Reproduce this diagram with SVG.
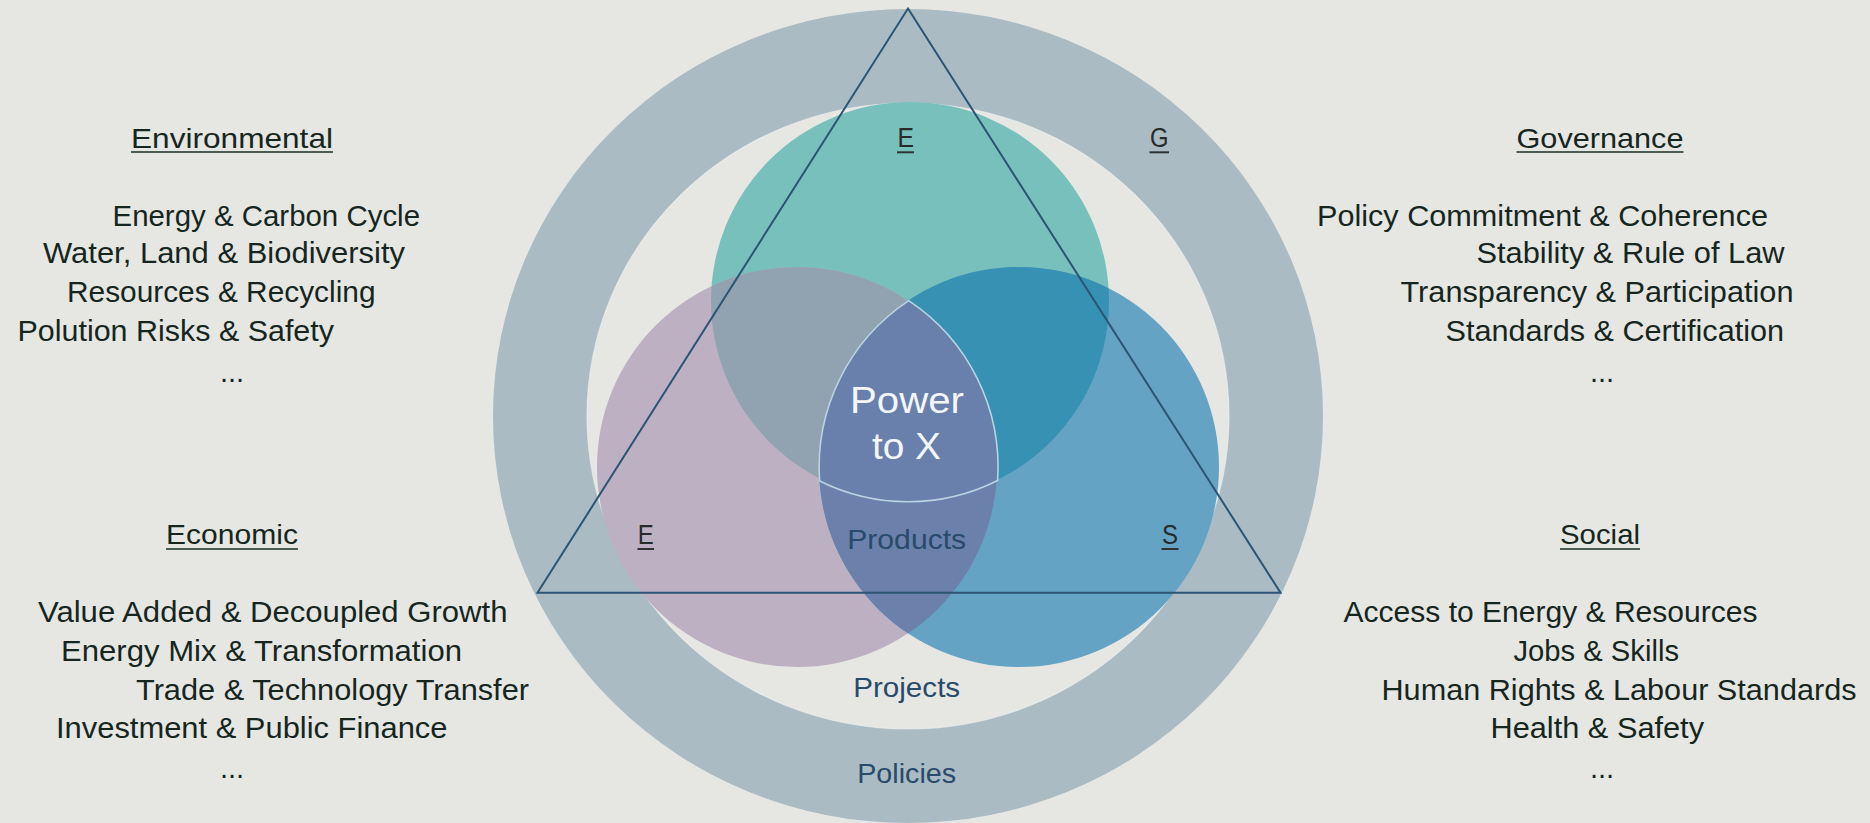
<svg xmlns="http://www.w3.org/2000/svg" width="1870" height="823" viewBox="0 0 1870 823">
  <style>
    .bg { fill: #e6e7e3; }
    .item { font-family: "Liberation Sans", Arial, sans-serif; font-size: 29px; fill: #16261f; }
    .head { font-family: "Liberation Sans", Arial, sans-serif; font-size: 28px; fill: #16261f; }
    .rule { stroke: #4b5c53; stroke-width: 2; }
    .letter { font-family: "Liberation Sans", Arial, sans-serif; font-size: 27px; fill: #262b2b; }
    .lrule { stroke: #2e3434; stroke-width: 2; }
    .level { font-family: "Liberation Sans", Arial, sans-serif; font-size: 28px; fill: #284a6b; text-anchor: middle; }
    .core { font-family: "Liberation Sans", Arial, sans-serif; font-size: 37px; fill: #f3f6fa; text-anchor: middle; }
  </style>
  <defs>
    <clipPath id="clip-env"><circle cx="910" cy="301" r="199"/></clipPath>
    <clipPath id="clip-eco"><circle cx="797" cy="467" r="200"/></clipPath>
    <clipPath id="clip-eco-env" clip-path="url(#clip-env)"><circle cx="797" cy="467" r="200"/></clipPath>
  </defs>

  <rect class="bg" x="0" y="0" width="1870" height="823"/>

  <!-- Policies ring -->
  <g id="policies-ring">
    <path fill="#aabbc4" fill-rule="evenodd" d="M493 416a415 407 0 1 0 830 0a415 407 0 1 0 -830 0Z M587 416a321 313 0 1 0 642 0a321 313 0 1 0 -642 0Z"/>
    <ellipse cx="908" cy="416" rx="321" ry="313" fill="none" stroke="#f2f4f4" stroke-opacity="0.6" stroke-width="1.2"/>
  </g>

  <!-- Three pillars -->
  <g id="circle-environmental">
    <circle cx="910" cy="301" r="199" fill="#78c0bc"/>
  </g>
  <g id="circle-economic">
    <circle cx="797" cy="467" r="200" fill="#bcb0c2"/>
  </g>
  <g id="circle-social">
    <circle cx="1019" cy="467" r="200" fill="#65a3c5"/>
  </g>

  <!-- Overlaps -->
  <g id="overlaps">
    <circle cx="797" cy="467" r="200" fill="#91a2b0" clip-path="url(#clip-env)"/>
    <circle cx="1019" cy="467" r="200" fill="#3691b3" clip-path="url(#clip-env)"/>
    <circle cx="1019" cy="467" r="200" fill="#6b81ab" clip-path="url(#clip-eco)"/>
  </g>

  <!-- Power to X core -->
  <g id="power-to-x">
    <circle cx="1019" cy="467" r="200" fill="#6880ab" clip-path="url(#clip-eco-env)"/>
    <path d="M908.7 300.6 A200 200 0 0 0 819.6 481 A199 199 0 0 0 997.6 480.5 A200 200 0 0 0 908.7 300.6 Z" fill="none" stroke="#b9d3e2" stroke-width="1.6"/>
    <text class="core" x="907" y="412.6" textLength="114" lengthAdjust="spacingAndGlyphs">Power</text>
    <text class="core" x="906.5" y="459" textLength="69" lengthAdjust="spacingAndGlyphs">to X</text>
  </g>

  <!-- ESG triangle -->
  <g id="esg-triangle">
    <polygon points="908,8.5 1280.5,592.7 537.5,592.7" fill="none" stroke="#2b5573" stroke-width="2" stroke-linejoin="miter"/>
  </g>

  <!-- Level labels -->
  <g id="levels">
    <text class="level" x="906.7" y="548.9" textLength="119" lengthAdjust="spacingAndGlyphs">Products</text>
    <text class="level" x="906.7" y="697" textLength="107" lengthAdjust="spacingAndGlyphs">Projects</text>
    <text class="level" x="906.7" y="782.7" textLength="99" lengthAdjust="spacingAndGlyphs">Policies</text>
  </g>

  <!-- Pillar letters -->
  <g id="letters">
    <text class="letter" x="897.5" y="146.7" textLength="16.5" lengthAdjust="spacingAndGlyphs">E</text>
    <line class="lrule" x1="897" y1="152.3" x2="914" y2="152.3"/>
    <text class="letter" x="1150" y="146.7" textLength="18.5" lengthAdjust="spacingAndGlyphs">G</text>
    <line class="lrule" x1="1149.5" y1="152.3" x2="1169" y2="152.3"/>
    <text class="letter" x="637.8" y="544" textLength="16" lengthAdjust="spacingAndGlyphs">E</text>
    <line class="lrule" x1="637.5" y1="549" x2="654" y2="549"/>
    <text class="letter" x="1162" y="544" textLength="16" lengthAdjust="spacingAndGlyphs">S</text>
    <line class="lrule" x1="1161.5" y1="549" x2="1178.5" y2="549"/>
  </g>

  <!-- Environmental -->
  <g id="list-environmental">
    <text class="head" x="131" y="147.7" textLength="202" lengthAdjust="spacingAndGlyphs">Environmental</text>
    <line class="rule" x1="131" y1="152" x2="333" y2="152"/>
    <text class="item" x="112.5" y="225.7" textLength="307.5" lengthAdjust="spacingAndGlyphs">Energy &amp; Carbon Cycle</text>
    <text class="item" x="43" y="263.3" textLength="362" lengthAdjust="spacingAndGlyphs">Water, Land &amp; Biodiversity</text>
    <text class="item" x="67" y="302.3" textLength="308.5" lengthAdjust="spacingAndGlyphs">Resources &amp; Recycling</text>
    <text class="item" x="17.5" y="340.7" textLength="316.5" lengthAdjust="spacingAndGlyphs">Polution Risks &amp; Safety</text>
    <text class="item" x="220" y="381.7">...</text>
  </g>

  <!-- Economic -->
  <g id="list-economic">
    <text class="head" x="166" y="544.3" textLength="132" lengthAdjust="spacingAndGlyphs">Economic</text>
    <line class="rule" x1="166" y1="549" x2="298" y2="549"/>
    <text class="item" x="38" y="622.3" textLength="469.5" lengthAdjust="spacingAndGlyphs">Value Added &amp; Decoupled Growth</text>
    <text class="item" x="61" y="660.7" textLength="401" lengthAdjust="spacingAndGlyphs">Energy Mix &amp; Transformation</text>
    <text class="item" x="136" y="700" textLength="393" lengthAdjust="spacingAndGlyphs">Trade &amp; Technology Transfer</text>
    <text class="item" x="56" y="738.3" textLength="391.5" lengthAdjust="spacingAndGlyphs">Investment &amp; Public Finance</text>
    <text class="item" x="220" y="778.3">...</text>
  </g>

  <!-- Governance -->
  <g id="list-governance">
    <text class="head" x="1516.5" y="147.7" textLength="167" lengthAdjust="spacingAndGlyphs">Governance</text>
    <line class="rule" x1="1516.5" y1="152" x2="1683.5" y2="152"/>
    <text class="item" x="1317" y="225.7" textLength="451" lengthAdjust="spacingAndGlyphs">Policy Commitment &amp; Coherence</text>
    <text class="item" x="1476.5" y="263.3" textLength="308" lengthAdjust="spacingAndGlyphs">Stability &amp; Rule of Law</text>
    <text class="item" x="1400.5" y="302.3" textLength="393" lengthAdjust="spacingAndGlyphs">Transparency &amp; Participation</text>
    <text class="item" x="1445.5" y="340.7" textLength="338.5" lengthAdjust="spacingAndGlyphs">Standards &amp; Certification</text>
    <text class="item" x="1590" y="381.7">...</text>
  </g>

  <!-- Social -->
  <g id="list-social">
    <text class="head" x="1560" y="544.3" textLength="80" lengthAdjust="spacingAndGlyphs">Social</text>
    <line class="rule" x1="1560" y1="549" x2="1640" y2="549"/>
    <text class="item" x="1343.5" y="622.3" textLength="414" lengthAdjust="spacingAndGlyphs">Access to Energy &amp; Resources</text>
    <text class="item" x="1513.5" y="660.7" textLength="165.5" lengthAdjust="spacingAndGlyphs">Jobs &amp; Skills</text>
    <text class="item" x="1381.5" y="700" textLength="475" lengthAdjust="spacingAndGlyphs">Human Rights &amp; Labour Standards</text>
    <text class="item" x="1490.5" y="738.3" textLength="213.5" lengthAdjust="spacingAndGlyphs">Health &amp; Safety</text>
    <text class="item" x="1590" y="778.3">...</text>
  </g>
</svg>
